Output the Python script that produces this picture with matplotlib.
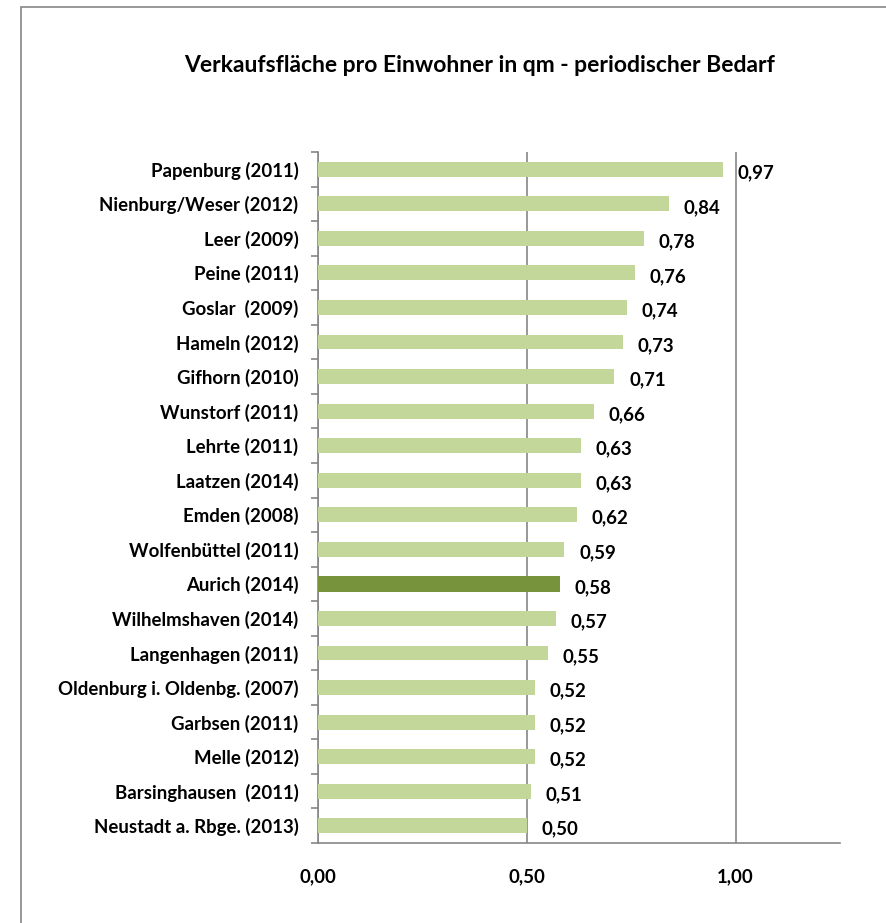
import matplotlib.pyplot as plt
import matplotlib.patches as mpatches
import numpy as np

plt.rcParams['font.family'] = ['Lato', 'DejaVu Sans']

# data (top to bottom as in the chart)
staedte = ['Papenburg (2011)', 'Nienburg/Weser (2012)', 'Leer (2009)', 'Peine (2011)',
           'Goslar  (2009)', 'Hameln (2012)', 'Gifhorn (2010)', 'Wunstorf (2011)',
           'Lehrte (2011)', 'Laatzen (2014)', 'Emden (2008)', 'Wolfenbüttel (2011)',
           'Aurich (2014)', 'Wilhelmshaven (2014)', 'Langenhagen (2011)',
           'Oldenburg i. Oldenbg. (2007)', 'Garbsen (2011)', 'Melle (2012)',
           'Barsinghausen  (2011)', 'Neustadt a. Rbge. (2013)']
werte = [0.97, 0.84, 0.78, 0.76, 0.74, 0.73, 0.71, 0.66, 0.63, 0.63,
         0.62, 0.59, 0.58, 0.57, 0.55, 0.52, 0.52, 0.52, 0.51, 0.50]
hervorgehoben = 'Aurich (2014)'
x_ticks = [0.0, 0.5, 1.0]

hell = '#C4D79B'
dunkel = '#77933C'
grau = '#868686'
fs = 13.4

fig = plt.figure(figsize=(8.86, 9.23), dpi=100)
# outer chart frame (cut off at right and bottom like the screenshot)
fig.patches.append(mpatches.Rectangle((21 / 886, -0.05), 1.1, 1 - 7 / 923 + 0.05,
                                      transform=fig.transFigure, fill=False,
                                      edgecolor=grau, linewidth=1.2))

ax = fig.add_axes([318 / 886, 80 / 923, 522 / 886, 691 / 923])

y = np.arange(len(staedte))
farben = [dunkel if s == hervorgehoben else hell for s in staedte]
hoehen = [0.48 if s == hervorgehoben else 0.43 for s in staedte]
ax.barh(y, werte, height=hoehen, color=farben, zorder=3)

for yi, w in zip(y, werte):
    ax.text(w + 0.035, yi + 0.1, f'{w:.2f}'.replace('.', ','), va='center', ha='left',
            fontsize=fs, fontweight='bold', color='black')

ax.set_xlim(0, 1.25)
ax.set_ylim(len(staedte) - 0.5, -0.5)
ax.set_xticks(x_ticks)
ax.set_xticklabels([f'{t:.2f}'.replace('.', ',') for t in x_ticks],
                   fontsize=fs, fontweight='bold')
ax.tick_params(axis='x', length=0, pad=18)
ax.xaxis.grid(True, color=grau, linewidth=1.2, zorder=0)

ax.set_yticks(y)
ax.set_yticklabels(staedte, fontsize=fs, fontweight='bold')
ax.set_yticks(np.arange(len(staedte) + 1) - 0.5, minor=True)
ax.tick_params(axis='y', which='major', length=0, pad=14)
ax.tick_params(axis='y', which='minor', length=5, color=grau, width=1.2)

for side in ['top', 'right']:
    ax.spines[side].set_visible(False)
for side in ['left', 'bottom']:
    ax.spines[side].set_color(grau)
    ax.spines[side].set_linewidth(1.2)

fig.text(480 / 886, 1 - 66 / 923, 'Verkaufsfläche pro Einwohner in qm - periodischer Bedarf',
         ha='center', va='center', fontsize=16.5, fontweight='bold')

fig.savefig('out.png', dpi=100)
